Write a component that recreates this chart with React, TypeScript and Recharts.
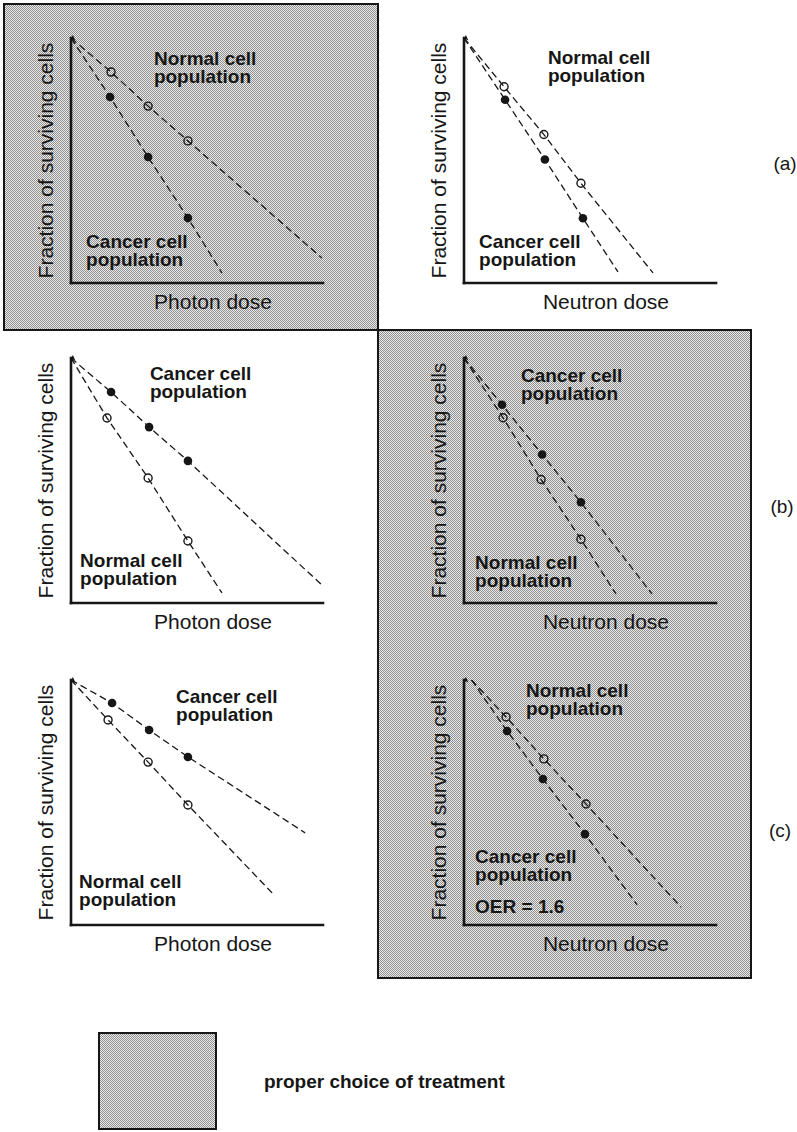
import React from 'react';
import { LineChart, Line, XAxis, YAxis, ReferenceDot } from 'recharts';

const FONT = '"Liberation Sans", Arial, Helvetica, sans-serif';
const INK = '#161616';

// Dose is in arbitrary units (0-10 across the axis); level is the log of the
// surviving fraction in arbitrary units (10 = every cell survives).
// Points flagged `measured` carry a marker; the others only bound the dashed fit.
type Pt = { dose: number; level: number; measured?: boolean };

// (a) photons
const photonNormalA: Pt[] = [
  { dose: 0, level: 10 },
  { dose: 1.59, level: 8.61, measured: true },
  { dose: 3.06, level: 7.22, measured: true },
  { dose: 4.64, level: 5.8, measured: true },
  { dose: 9.96, level: 1.02 },
];
const photonCancerA: Pt[] = [
  { dose: 0, level: 10 },
  { dose: 1.55, level: 7.59, measured: true },
  { dose: 3.06, level: 5.14, measured: true },
  { dose: 4.64, level: 2.65, measured: true },
  { dose: 5.99, level: 0.41 },
];
// (a) neutrons
const neutronNormalA: Pt[] = [
  { dose: 0, level: 10 },
  { dose: 1.59, level: 8.01, measured: true },
  { dose: 3.17, level: 6.06, measured: true },
  { dose: 4.64, level: 4.07, measured: true },
  { dose: 7.5, level: 0.41 },
];
const neutronCancerA: Pt[] = [
  { dose: 0, level: 10 },
  { dose: 1.63, level: 7.48, measured: true },
  { dose: 3.21, level: 5.04, measured: true },
  { dose: 4.72, level: 2.64, measured: true },
  { dose: 6.11, level: 0.45 },
];
// (b) photons
const photonCancerB: Pt[] = [
  { dose: 0, level: 10 },
  { dose: 1.59, level: 8.61, measured: true },
  { dose: 3.1, level: 7.18, measured: true },
  { dose: 4.64, level: 5.8, measured: true },
  { dose: 9.96, level: 0.73 },
];
const photonNormalB: Pt[] = [
  { dose: 0, level: 10 },
  { dose: 1.43, level: 7.55, measured: true },
  { dose: 3.06, level: 5.1, measured: true },
  { dose: 4.64, level: 2.53, measured: true },
  { dose: 5.99, level: 0.41 },
];
// (b) neutrons
const neutronCancerB: Pt[] = [
  { dose: 0, level: 10 },
  { dose: 1.51, level: 8.09, measured: true },
  { dose: 3.1, level: 6.06, measured: true },
  { dose: 4.64, level: 4.11, measured: true },
  { dose: 7.46, level: 0.37 },
];
const neutronNormalB: Pt[] = [
  { dose: 0, level: 10 },
  { dose: 1.55, level: 7.56, measured: true },
  { dose: 3.06, level: 5.04, measured: true },
  { dose: 4.64, level: 2.6, measured: true },
  { dose: 6.03, level: 0.37 },
];
// (c) photons
const photonCancerC: Pt[] = [
  { dose: 0, level: 10 },
  { dose: 1.63, level: 9.06, measured: true },
  { dose: 3.1, level: 7.96, measured: true },
  { dose: 4.64, level: 6.86, measured: true },
  { dose: 9.29, level: 3.76 },
];
const photonNormalC: Pt[] = [
  { dose: 0, level: 10 },
  { dose: 1.47, level: 8.37, measured: true },
  { dose: 3.06, level: 6.65, measured: true },
  { dose: 4.64, level: 4.9, measured: true },
  { dose: 7.98, level: 1.31 },
];
// (c) neutrons
const neutronNormalC: Pt[] = [
  { dose: 0.3, level: 10 },
  { dose: 1.67, level: 8.49, measured: true },
  { dose: 3.17, level: 6.78, measured: true },
  { dose: 4.84, level: 4.94, measured: true },
  { dose: 8.61, level: 0.73 },
];
const neutronCancerC: Pt[] = [
  { dose: 0.3, level: 10 },
  { dose: 1.71, level: 7.92, measured: true },
  { dose: 3.13, level: 5.96, measured: true },
  { dose: 4.8, level: 3.71, measured: true },
  { dose: 6.87, level: 0.82 },
];

const Y_TITLE = 'Fraction of surviving cells';
const PHOTON = 'Photon dose';
const NEUTRON = 'Neutron dose';
const NORMAL = ['Normal cell', 'population'];
const CANCER = ['Cancer cell', 'population'];
const OER = ['OER = 1.6'];
const ROW_TAGS = ['(a)', '(b)', '(c)'];
const LEGEND_TEXT = 'proper choice of treatment';

// layout of one panel (plot area 252 x 245 px)
const PLOT_W = 252;
const PLOT_H = 245;
const Y_AXIS_W = 71;
const X_AXIS_H = 55;
const M_TOP = 10;
const M_RIGHT = 20;

type Note = { x: number; y: number; lines: string[] };
type Panel = {
  left: number;
  top: number;
  xTitle: string;
  curves: { data: Pt[]; filled: boolean }[];
  notes: Note[];
};

const COL_X = [71, 464];
const ROW_Y = [38, 358, 680];

const panels: Panel[] = [
  {
    left: COL_X[0], top: ROW_Y[0], xTitle: PHOTON,
    curves: [{ data: photonNormalA, filled: false }, { data: photonCancerA, filled: true }],
    notes: [{ x: 3.29, y: 8.9, lines: NORMAL }, { x: 0.6, y: 1.43, lines: CANCER }],
  },
  {
    left: COL_X[1], top: ROW_Y[0], xTitle: NEUTRON,
    curves: [{ data: neutronNormalA, filled: false }, { data: neutronCancerA, filled: true }],
    notes: [{ x: 3.33, y: 8.95, lines: NORMAL }, { x: 0.6, y: 1.43, lines: CANCER }],
  },
  {
    left: COL_X[0], top: ROW_Y[1], xTitle: PHOTON,
    curves: [{ data: photonCancerB, filled: true }, { data: photonNormalB, filled: false }],
    notes: [{ x: 3.13, y: 9.1, lines: CANCER }, { x: 0.36, y: 1.47, lines: NORMAL }],
  },
  {
    left: COL_X[1], top: ROW_Y[1], xTitle: NEUTRON,
    curves: [{ data: neutronCancerB, filled: true }, { data: neutronNormalB, filled: false }],
    notes: [{ x: 2.26, y: 9.02, lines: CANCER }, { x: 0.44, y: 1.38, lines: NORMAL }],
  },
  {
    left: COL_X[0], top: ROW_Y[2], xTitle: PHOTON,
    curves: [{ data: photonCancerC, filled: true }, { data: photonNormalC, filled: false }],
    notes: [{ x: 4.17, y: 9.06, lines: CANCER }, { x: 0.32, y: 1.51, lines: NORMAL }],
  },
  {
    left: COL_X[1], top: ROW_Y[2], xTitle: NEUTRON,
    curves: [{ data: neutronNormalC, filled: false }, { data: neutronCancerC, filled: true }],
    notes: [
      { x: 2.46, y: 9.31, lines: NORMAL },
      { x: 0.44, y: 2.53, lines: CANCER },
      { x: 0.44, y: 0.49, lines: OER },
    ],
  },
];

const makeDot = (filled: boolean) => (props: any) => {
  const { cx, cy, payload, index } = props;
  if (!payload || !payload.measured || cx == null || cy == null) {
    return <g key={`skip-${index}`} />;
  }
  return filled ? (
    <circle key={`dot-${index}`} cx={cx} cy={cy} r={4.3} fill={INK} />
  ) : (
    <circle key={`dot-${index}`} cx={cx} cy={cy} r={4} fill="none" stroke={INK} strokeWidth={1.4} />
  );
};

const noteLabel = (lines: string[]) => (props: any) => {
  const vb = props.viewBox || {};
  const x = vb.x ?? 0;
  const y = vb.y ?? 0;
  return (
    <text x={x} y={y} fill={INK} fontFamily={FONT} fontWeight="bold" fontSize={19}>
      {lines.map((t, i) => (
        <tspan key={i} x={x} dy={i === 0 ? 0 : 18}>
          {t}
        </tspan>
      ))}
    </text>
  );
};

const xTitle = (title: string) => (props: any) => {
  const vb = props.viewBox || {};
  return (
    <text
      x={vb.x + vb.width / 2 + 16}
      y={vb.y + 26}
      textAnchor="middle"
      fill={INK}
      fontFamily={FONT}
      fontSize={21}
    >
      {title}
    </text>
  );
};

const yTitle = (props: any) => {
  const vb = props.viewBox || {};
  const cx = vb.x + vb.width - 18;
  const cy = vb.y + vb.height / 2;
  return (
    <text
      x={cx}
      y={cy}
      transform={`rotate(-90 ${cx} ${cy})`}
      textAnchor="middle"
      fill={INK}
      fontFamily={FONT}
      fontSize={21}
    >
      {Y_TITLE}
    </text>
  );
};

function SurvivalPanel({ panel }: { panel: Panel }) {
  const w = Y_AXIS_W + PLOT_W + M_RIGHT;
  const h = M_TOP + PLOT_H + X_AXIS_H;
  return (
    <div style={{ position: 'absolute', left: panel.left - Y_AXIS_W, top: panel.top - M_TOP }}>
      <LineChart width={w} height={h} margin={{ top: M_TOP, right: M_RIGHT, bottom: 0, left: 0 }}>
        <XAxis
          type="number"
          dataKey="dose"
          domain={[0, 10]}
          allowDataOverflow
          tick={false}
          tickLine={false}
          height={X_AXIS_H}
          axisLine={{ stroke: INK, strokeWidth: 2.6, strokeLinecap: 'square' }}
          label={{ content: xTitle(panel.xTitle) }}
        />
        <YAxis
          type="number"
          dataKey="level"
          domain={[0, 10]}
          allowDataOverflow
          tick={false}
          tickLine={false}
          width={Y_AXIS_W}
          axisLine={{
            stroke: INK,
            strokeWidth: 2.6,
            strokeLinecap: 'square',
            markerStart: 'url(#axis-tip)',
          }}
          label={{ content: yTitle }}
        />
        {panel.curves.map((c, i) => (
          <Line
            key={i}
            type="linear"
            data={c.data}
            dataKey="level"
            stroke={INK}
            strokeWidth={1.3}
            strokeDasharray="7 4"
            dot={makeDot(c.filled)}
            activeDot={false}
            legendType="none"
            isAnimationActive={false}
          />
        ))}
        {panel.notes.map((n, i) => (
          <ReferenceDot
            key={`note-${i}`}
            x={n.x}
            y={n.y}
            r={0}
            fill="none"
            stroke="none"
            ifOverflow="visible"
            label={noteLabel(n.lines)}
          />
        ))}
      </LineChart>
    </div>
  );
}

export default function App() {
  return (
    <div
      style={{
        position: 'absolute',
        left: 0,
        top: 0,
        width: 797,
        height: 1132,
        background: '#ffffff',
        overflow: 'hidden',
      }}
    >
      <svg width={797} height={1132} style={{ position: 'absolute', left: 0, top: 0 }}>
        <defs>
          <pattern id="stipple" width={2} height={2} patternUnits="userSpaceOnUse">
            <rect width={2} height={2} fill="#ececec" />
            <rect x={0} y={0} width={1} height={1} fill="#8e8e8e" />
            <rect x={1} y={1} width={1} height={1} fill="#8e8e8e" />
          </pattern>
          {/* small arrow tip at the top of each survival axis */}
          <marker
            id="axis-tip"
            viewBox="0 0 10 10"
            refX={5}
            refY={2}
            markerWidth={2.4}
            markerHeight={2.4}
            orient="auto-start-reverse"
            markerUnits="strokeWidth"
          >
            <path d="M5 0 L9 9 L5 7 L1 9 Z" fill={INK} transform="rotate(90 5 5)" />
          </marker>
        </defs>
        {/* shaded frames mark the preferred treatment */}
        <rect x={4} y={4} width={374} height={326} fill="url(#stipple)" stroke={INK} strokeWidth={2} />
        <rect x={378} y={330} width={373} height={648} fill="url(#stipple)" stroke={INK} strokeWidth={2} />
        <rect x={99} y={1033} width={117} height={96} fill="url(#stipple)" stroke={INK} strokeWidth={2} />
        <text x={785} y={170} textAnchor="middle" fontFamily={FONT} fontSize={19} fill={INK}>
          {ROW_TAGS[0]}
        </text>
        <text x={782} y={513} textAnchor="middle" fontFamily={FONT} fontSize={19} fill={INK}>
          {ROW_TAGS[1]}
        </text>
        <text x={780} y={837} textAnchor="middle" fontFamily={FONT} fontSize={19} fill={INK}>
          {ROW_TAGS[2]}
        </text>
        <text x={264} y={1088} fontFamily={FONT} fontWeight="bold" fontSize={19} fill={INK}>
          {LEGEND_TEXT}
        </text>
      </svg>
      {panels.map((p, i) => (
        <SurvivalPanel key={i} panel={p} />
      ))}
    </div>
  );
}
